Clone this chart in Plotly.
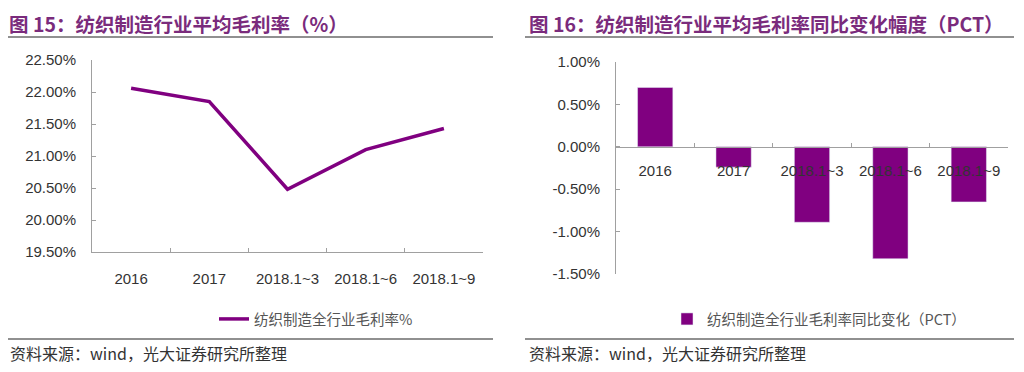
import plotly.graph_objects as go

categories = ["2016", "2017", "2018.1~3", "2018.1~6", "2018.1~9"]
gross_margin = [22.06, 21.85, 20.48, 21.10, 21.43]
yoy_change = [0.70, -0.24, -0.89, -1.32, -0.65]
left_ticks = [19.5, 20.0, 20.5, 21.0, 21.5, 22.0, 22.5]
right_ticks = [-1.5, -1.0, -0.5, 0.0, 0.5, 1.0]

title_left = "图 15：纺织制造行业平均毛利率（%）"
title_right = "图 16：纺织制造行业平均毛利率同比变化幅度（PCT）"
legend_left = "纺织制造全行业毛利率%"
legend_right = "纺织制造全行业毛利率同比变化（PCT）"
source = "资料来源：wind，光大证券研究所整理"

# the page body has an 8px default margin; the figure is sized to fit after it
OFF = 8
W, H = 1024 - OFF, 372 - OFF
PURPLE = "#800080"
TITLE_C = "#7a2b7c"
AXIS_C = "#a0a0a0"
TEXT_C = "#333333"
FONT = "Arial, Liberation Sans, Noto Sans CJK SC, sans-serif"
CJK = "Noto Sans CJK SC, sans-serif"


def px_x(p):
    return max(p - OFF, 0) / W


def px_y(p):
    return 1 - max(p - OFF, 0) / H


def pct_labels(vals):
    return ["%.2f%%" % v for v in vals]


fig = go.Figure()
fig.add_trace(go.Scatter(
    x=categories, y=gross_margin, mode="lines", name=legend_left,
    line=dict(color=PURPLE, width=3.5), xaxis="x", yaxis="y", legend="legend",
))
fig.add_trace(go.Bar(
    x=categories, y=yoy_change, name=legend_right, marker_color=PURPLE,
    width=0.45, xaxis="x2", yaxis="y2", legend="legend2",
))

axis_common = dict(showgrid=False, zeroline=False, showline=True, linecolor=AXIS_C,
                   linewidth=1, tickcolor=AXIS_C, ticks="inside", ticklen=4,
                   automargin=False,
                   tickfont=dict(family=FONT, size=15, color=TEXT_C))

fig.update_layout(
    width=W, height=H,
    margin=dict(l=0, r=0, t=0, b=0, pad=0, autoexpand=False),
    paper_bgcolor="white", plot_bgcolor="white",
    xaxis=dict(domain=[px_x(92), px_x(483)], anchor="y", type="category",
               range=[-0.5, 4.5], tickson="boundaries", ticklabelstandoff=13,
               **axis_common),
    yaxis=dict(domain=[px_y(252), px_y(60)], anchor="x", range=[19.5, 22.5],
               tickvals=left_ticks, ticktext=pct_labels(left_ticks),
               ticklabelstandoff=12, **axis_common),
    xaxis2=dict(domain=[px_x(616), px_x(1008)], anchor="free", position=px_y(146.8),
                type="category", range=[-0.5, 4.5], tickson="boundaries",
                ticklabelstandoff=10, layer="above traces", **axis_common),
    yaxis2=dict(domain=[px_y(274), px_y(62)], anchor="x2", range=[-1.5, 1.0],
                tickvals=right_ticks, ticktext=pct_labels(right_ticks),
                ticklabelstandoff=12, **axis_common),
    legend=dict(x=px_x(214), y=px_y(319), xanchor="left", yanchor="middle",
                font=dict(family=CJK, size=14.5, color="#555555"),
                bgcolor="rgba(0,0,0,0)"),
    legend2=dict(x=px_x(667), y=px_y(319), xanchor="left", yanchor="middle",
                 font=dict(family=CJK, size=14.5, color="#555555"),
                 bgcolor="rgba(0,0,0,0)"),
    showlegend=True,
    shapes=[
        dict(type="line", xref="paper", yref="paper", x0=px_x(5), x1=px_x(493),
             y0=px_y(37), y1=px_y(37), line=dict(color="#222222", width=1.2)),
        dict(type="line", xref="paper", yref="paper", x0=px_x(525), x1=px_x(1014),
             y0=px_y(37), y1=px_y(37), line=dict(color="#222222", width=1.2)),
        dict(type="line", xref="paper", yref="paper", x0=px_x(5), x1=px_x(493),
             y0=px_y(339), y1=px_y(339), line=dict(color="#222222", width=1.2)),
        dict(type="line", xref="paper", yref="paper", x0=px_x(525), x1=px_x(1014),
             y0=px_y(339), y1=px_y(339), line=dict(color="#222222", width=1.2)),
    ],
    annotations=[
        dict(text="<b>" + title_left + "</b>", xref="paper", yref="paper",
             x=px_x(8), y=1, xanchor="left", yanchor="top", showarrow=False,
             borderpad=0, font=dict(family=CJK, size=19.5, color=TITLE_C)),
        dict(text="<b>" + title_right + "</b>", xref="paper", yref="paper",
             x=px_x(528), y=1, xanchor="left", yanchor="top", showarrow=False,
             borderpad=0, font=dict(family=CJK, size=19.5, color=TITLE_C)),
        dict(text=source, xref="paper", yref="paper",
             x=px_x(8), y=px_y(353), xanchor="left", yanchor="middle", showarrow=False,
             font=dict(family=CJK, size=16, color="#333333")),
        dict(text=source, xref="paper", yref="paper",
             x=px_x(527), y=px_y(353), xanchor="left", yanchor="middle", showarrow=False,
             font=dict(family=CJK, size=16, color="#333333")),
    ],
)

fig.write_html("out.html")
